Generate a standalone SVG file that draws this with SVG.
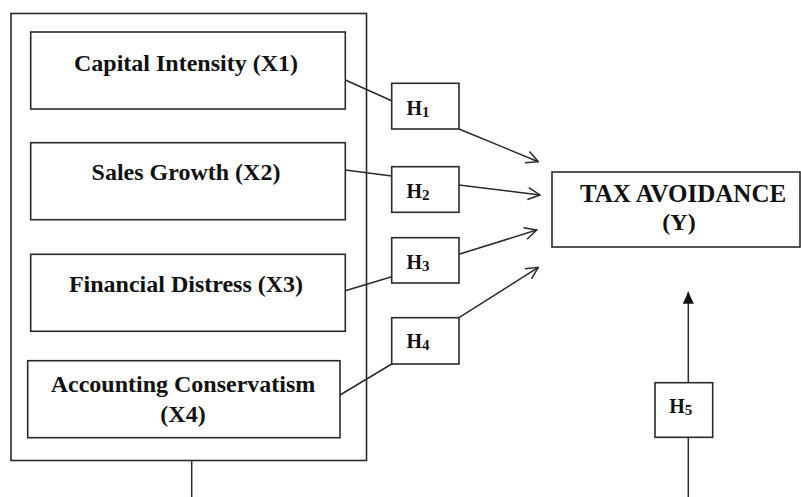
<svg xmlns="http://www.w3.org/2000/svg" width="801" height="497" viewBox="0 0 801 497">
<style>
.box{fill:#fff;stroke:#2a2a2a;stroke-width:1.6}
.ln{fill:none;stroke:#2a2a2a;stroke-width:1.5}
.t{font-family:"Liberation Serif","Times New Roman",serif;font-weight:bold;font-size:24px;fill:#111;text-anchor:middle}
.big{font-size:25px}
.h{font-family:"Liberation Serif","Times New Roman",serif;font-weight:bold;font-size:20px;fill:#111}
.sub{font-size:15px}
</style>
<defs>
<marker id="open" viewBox="0 0 14 14" refX="13" refY="7" markerWidth="14" markerHeight="14" markerUnits="userSpaceOnUse" orient="auto">
<path d="M1,1 L13,7 L1,13" fill="none" stroke="#2a2a2a" stroke-width="1.5"/>
</marker>
<marker id="solid" viewBox="0 0 12 12" refX="12" refY="6" markerWidth="12" markerHeight="12" markerUnits="userSpaceOnUse" orient="auto">
<path d="M0,0.5 L12,6 L0,11.5 z" fill="#111"/>
</marker>
</defs>
<g id="outer"><rect class="box" x="11" y="13.5" width="355.5" height="447"/></g>
<g id="x1"><rect class="box" x="30.7" y="32" width="314.6" height="77"/><text class="t" x="186" y="71">Capital Intensity (X1)</text></g>
<g id="x2"><rect class="box" x="30.7" y="142.7" width="314.6" height="77"/><text class="t" x="186" y="180">Sales Growth (X2)</text></g>
<g id="x3"><rect class="box" x="30.7" y="254.3" width="314.6" height="77"/><text class="t" x="186" y="291.5">Financial Distress (X3)</text></g>
<g id="x4"><rect class="box" x="27.7" y="360.7" width="312.3" height="77"/><text class="t" x="183" y="391.5">Accounting Conservatism</text><text class="t" x="183" y="421.5">(X4)</text></g>
<g id="y"><rect class="box" x="552" y="172" width="248" height="75"/><text class="t big" x="683" y="201.5">TAX AVOIDANCE</text><text class="t" x="679" y="230">(Y)</text></g>
<g id="h1"><rect class="box" x="391.7" y="83.3" width="67.3" height="45.7"/><text class="h" x="406.5" y="115">H<tspan class="sub" dy="2">1</tspan></text></g>
<g id="h2"><rect class="box" x="391.7" y="166.7" width="67.3" height="45.6"/><text class="h" x="406.5" y="198.3">H<tspan class="sub" dy="2">2</tspan></text></g>
<g id="h3"><rect class="box" x="391.7" y="237.7" width="67.3" height="45.3"/><text class="h" x="406.5" y="269.3">H<tspan class="sub" dy="2">3</tspan></text></g>
<g id="h4"><rect class="box" x="391.7" y="317.7" width="67.3" height="46.3"/><text class="h" x="406.5" y="348.3">H<tspan class="sub" dy="2">4</tspan></text></g>
<g id="h5"><rect class="box" x="655" y="382.7" width="57.7" height="54.6"/><text class="h" x="669.3" y="413.3">H<tspan class="sub" dy="2">5</tspan></text></g>
<g id="connectors">
<line class="ln" x1="345.3" y1="80" x2="391.7" y2="100.7"/>
<line class="ln" x1="459" y1="129" x2="538.3" y2="161.7" marker-end="url(#open)"/>
<line class="ln" x1="345.3" y1="170" x2="391.7" y2="176"/>
<line class="ln" x1="459" y1="185" x2="540" y2="195" marker-end="url(#open)"/>
<line class="ln" x1="345.3" y1="290.7" x2="391.7" y2="276.7"/>
<line class="ln" x1="459" y1="254.3" x2="536.7" y2="230" marker-end="url(#open)"/>
<line class="ln" x1="340" y1="395" x2="391.7" y2="364"/>
<line class="ln" x1="459" y1="317.7" x2="538.3" y2="267.3" marker-end="url(#open)"/>
<line class="ln" x1="688.3" y1="382.7" x2="688.3" y2="291.7" marker-end="url(#solid)"/>
<line class="ln" x1="688.3" y1="437.3" x2="688.3" y2="497"/>
<line class="ln" x1="191.7" y1="460.5" x2="191.7" y2="497"/>
</g>
</svg>
